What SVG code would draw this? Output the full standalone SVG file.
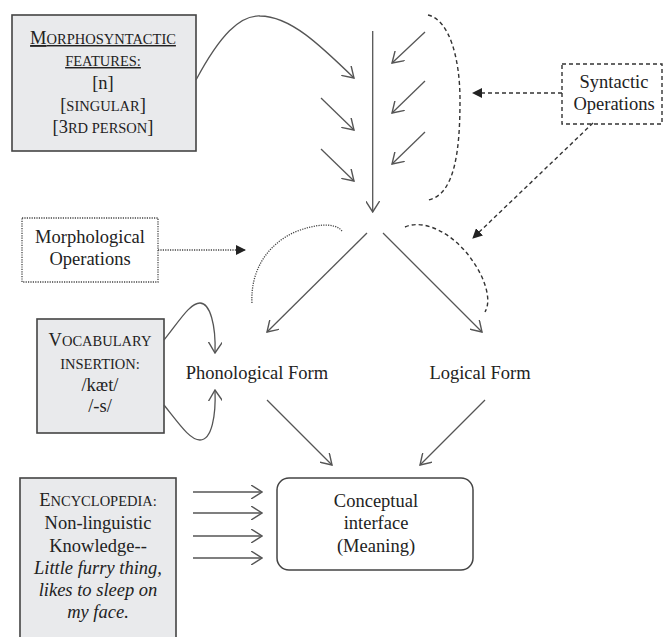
<svg xmlns="http://www.w3.org/2000/svg" width="663" height="637" viewBox="0 0 663 637">
<defs>
<marker id="open" viewBox="0 0 12 14" refX="11" refY="7" markerWidth="12" markerHeight="14" markerUnits="userSpaceOnUse" orient="auto">
<path d="M0,0 L11,7 L0,14" fill="none" stroke="#555" stroke-width="1.4"/>
</marker>
<marker id="filled" viewBox="0 0 10 10" refX="9" refY="5" markerWidth="10" markerHeight="10" markerUnits="userSpaceOnUse" orient="auto">
<path d="M0,0 L10,5 L0,10 z" fill="#222"/>
</marker>
</defs>
<style>
text{font-size:18.5px;fill:#222;text-anchor:middle}
.s{font-size:14.5px}
.u{text-decoration:underline}
.it{font-style:italic}
.gray{fill:#e9eaec;stroke:#444;stroke-width:1.6}
.ln{fill:none;stroke:#555;stroke-width:1.3}
.dash{fill:none;stroke:#333;stroke-width:1.4;stroke-dasharray:4,3}
.dot{fill:none;stroke:#444;stroke-width:1.3;stroke-dasharray:1.2,1.2}
</style>
<rect width="663" height="637" fill="#fff"/>

<g font-family="'Liberation Serif', 'DejaVu Serif', serif">
<g id="morphosyntactic">
<rect class="gray" x="12" y="15" width="184" height="136"/>
<text x="103" y="44" class="u">M<tspan class="s">ORPHOSYNTACTIC</tspan></text>
<text x="103" y="66" class="u s">FEATURES:</text>
<text x="103" y="89">[n]</text>
<text x="103" y="111">[<tspan class="s">SINGULAR</tspan>]</text>
<text x="103" y="133">[3<tspan class="s">RD PERSON</tspan>]</text>
</g>

<g id="syntactic">
<rect x="562" y="64" width="100" height="60" fill="#fff" stroke="#333" stroke-width="1.4" stroke-dasharray="4,3"/>
<text x="614" y="88">Syntactic</text>
<text x="614" y="110">Operations</text>
</g>

<g id="morphological">
<rect x="22" y="218" width="136" height="64" fill="#fff" stroke="#444" stroke-width="1.3" stroke-dasharray="1.2,1.2"/>
<text x="90" y="243">Morphological</text>
<text x="90" y="265">Operations</text>
</g>

<g id="vocabulary">
<rect class="gray" x="37" y="319" width="127" height="114"/>
<text x="100" y="346">V<tspan class="s">OCABULARY</tspan></text>
<text x="100" y="369" class="s">INSERTION:</text>
<text x="100" y="391">/kæt/</text>
<text x="100" y="412">/-s/</text>
</g>

<g id="phonological">
<text x="257" y="379">Phonological Form</text>
</g>

<g id="logical">
<text x="480" y="379">Logical Form</text>
</g>

<g id="encyclopedia">
<rect class="gray" x="20" y="478" width="156" height="170"/>
<text x="98" y="506">E<tspan class="s">NCYCLOPEDIA:</tspan></text>
<text x="98" y="529">Non-linguistic</text>
<text x="98" y="552">Knowledge--</text>
<text x="98" y="574" class="it">Little furry thing,</text>
<text x="98" y="596" class="it">likes to sleep on</text>
<text x="98" y="618" class="it">my face.</text>
</g>

<g id="conceptual">
<rect x="277" y="478" width="196" height="92" rx="12" ry="12" fill="#fff" stroke="#444" stroke-width="1.5"/>
<text x="376" y="507">Conceptual</text>
<text x="376" y="529">interface</text>
<text x="376" y="552">(Meaning)</text>
</g>
</g>

<g id="connectors">
<path class="ln" d="M196,80 C220,35 240,15 260,16 C290,16 320,45 354,78" marker-end="url(#open)"/>
<line class="ln" x1="372.7" y1="31" x2="372.7" y2="212" stroke-width="1.8" marker-end="url(#open)"/>
<line class="ln" x1="321" y1="98" x2="354" y2="130" marker-end="url(#open)"/>
<line class="ln" x1="321" y1="149" x2="354" y2="181" marker-end="url(#open)"/>
<line class="ln" x1="425" y1="32" x2="392" y2="63" marker-end="url(#open)"/>
<line class="ln" x1="425" y1="81" x2="392" y2="113" marker-end="url(#open)"/>
<line class="ln" x1="425" y1="132" x2="392" y2="164" marker-end="url(#open)"/>
<path class="dash" d="M428,15 C450,20 460,60 460,100 C460,150 455,195 428,200"/>
<line class="dash" x1="562" y1="93" x2="473" y2="93" marker-end="url(#filled)"/>
<line class="dash" x1="593" y1="123" x2="473" y2="238" marker-end="url(#filled)"/>
<line class="dot" x1="158" y1="250" x2="245" y2="250" marker-end="url(#filled)"/>
<path class="dot" d="M342,231 C335,222 315,224 295,232 C268,244 250,270 252,304"/>
<path class="dash" d="M405,227 C425,218 455,235 472,260 C485,278 492,300 485,312"/>
<line class="ln" x1="367" y1="233" x2="267" y2="332" marker-end="url(#open)"/>
<line class="ln" x1="383" y1="233" x2="482" y2="332" marker-end="url(#open)"/>
<path class="ln" d="M164,340 C180,320 190,303 200,303 C210,303 216,325 215,353" marker-end="url(#open)"/>
<path class="ln" d="M164,405 C180,425 190,440 200,440 C212,440 216,415 215,390" marker-end="url(#open)"/>
<line class="ln" x1="267" y1="400" x2="332" y2="465" marker-end="url(#open)"/>
<line class="ln" x1="485" y1="400" x2="420" y2="465" marker-end="url(#open)"/>
<line class="ln" x1="193" y1="492" x2="262" y2="492" marker-end="url(#open)"/>
<line class="ln" x1="193" y1="513" x2="262" y2="513" marker-end="url(#open)"/>
<line class="ln" x1="193" y1="536" x2="262" y2="536" marker-end="url(#open)"/>
<line class="ln" x1="193" y1="558" x2="262" y2="558" marker-end="url(#open)"/>
</g>
</svg>
